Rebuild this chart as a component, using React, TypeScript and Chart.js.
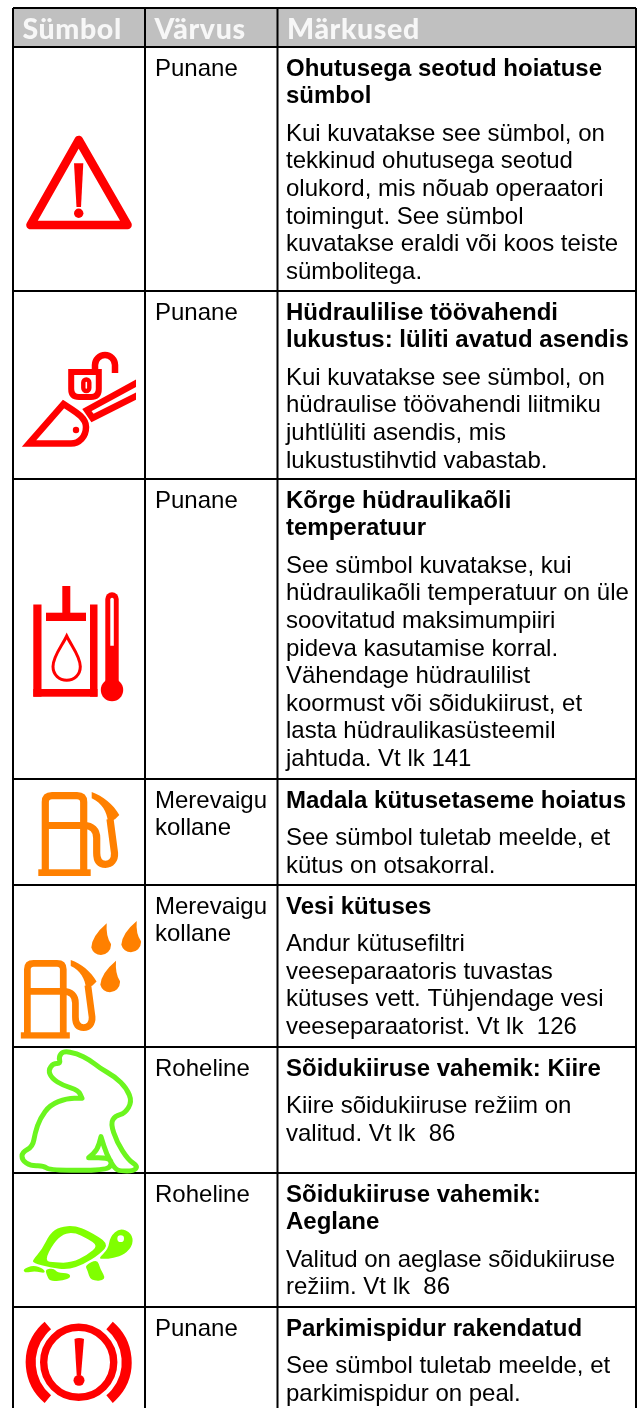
import React, { useEffect, useRef } from "react";
import { Chart, registerables } from "chart.js";

Chart.register(...registerables);

const W = 643;
const H = 1408;
const columnEdges = [13, 145, 277.5, 636];
const rowEdges = [8, 47, 291, 479, 779, 885, 1047, 1173, 1307];
const tableBottom = 1408;
const headers = ["Sümbol", "Värvus", "Märkused"];
const colours = ["Punane", "Punane", "Punane", "Merevaigu\nkollane", "Merevaigu\nkollane", "Roheline", "Roheline", "Punane"];
const titles = [
  ["Ohutusega seotud hoiatuse", "sümbol"],
  ["Hüdraulilise töövahendi", "lukustus: lüliti avatud asendis"],
  ["Kõrge hüdraulikaõli", "temperatuur"],
  ["Madala kütusetaseme hoiatus"],
  ["Vesi kütuses"],
  ["Sõidukiiruse vahemik: Kiire"],
  ["Sõidukiiruse vahemik:", "Aeglane"],
  ["Parkimispidur rakendatud"],
];
const bodies = [
  ["Kui kuvatakse see sümbol, on", "tekkinud ohutusega seotud", "olukord, mis nõuab operaatori", "toimingut. See sümbol", "kuvatakse eraldi või koos teiste", "sümbolitega."],
  ["Kui kuvatakse see sümbol, on", "hüdraulise töövahendi liitmiku", "juhtlüliti asendis, mis", "lukustustihvtid vabastab."],
  ["See sümbol kuvatakse, kui", "hüdraulikaõli temperatuur on üle", "soovitatud maksimumpiiri", "pideva kasutamise korral.", "Vähendage hüdraulilist", "koormust või sõidukiirust, et", "lasta hüdraulikasüsteemil", "jahtuda. Vt lk 141"],
  ["See sümbol tuletab meelde, et", "kütus on otsakorral."],
  ["Andur kütusefiltri", "veeseparaatoris tuvastas", "kütuses vett. Tühjendage vesi", "veeseparaatorist. Vt lk  126"],
  ["Kiire sõidukiiruse režiim on", "valitud. Vt lk  86"],
  ["Valitud on aeglase sõidukiiruse", "režiim. Vt lk  86"],
  ["See sümbol tuletab meelde, et", "parkimispidur on peal."],
];

const RED = "#FF0000";
const ORANGE = "#FF8000";
const GREEN_LINE = "#6CF51E";
const GREEN = "#80FF00";

type Ctx = CanvasRenderingContext2D;

function smooth(ctx: Ctx, pts: number[][]) {
  const n = pts.length;
  const mid = (a: number[], b: number[]) => [(a[0] + b[0]) / 2, (a[1] + b[1]) / 2];
  const s = mid(pts[n - 1], pts[0]);
  ctx.moveTo(s[0], s[1]);
  for (let i = 0; i < n; i++) {
    const m = mid(pts[i], pts[(i + 1) % n]);
    ctx.quadraticCurveTo(pts[i][0], pts[i][1], m[0], m[1]);
  }
  ctx.closePath();
}

function warning(ctx: Ctx) {
  ctx.strokeStyle = RED;
  ctx.fillStyle = RED;
  ctx.lineWidth = 8.6;
  ctx.lineJoin = "round";
  ctx.beginPath();
  ctx.moveTo(78.7, 140);
  ctx.lineTo(30.5, 225);
  ctx.lineTo(127.5, 225);
  ctx.closePath();
  ctx.stroke();
  ctx.beginPath();
  ctx.moveTo(74, 163.3);
  ctx.lineTo(83.3, 163.3);
  ctx.lineTo(81, 207);
  ctx.lineTo(76.5, 207);
  ctx.closePath();
  ctx.fill();
  ctx.beginPath();
  ctx.arc(78.7, 213.3, 4.7, 0, Math.PI * 2);
  ctx.fill();
}

function lock(ctx: Ctx) {
  ctx.strokeStyle = RED;
  ctx.fillStyle = RED;
  ctx.lineWidth = 6.5;
  ctx.lineJoin = "miter";
  ctx.beginPath();
  ctx.moveTo(29, 443.5);
  ctx.lineTo(63.5, 404);
  ctx.bezierCurveTo(74, 411, 86, 417, 86, 427);
  ctx.bezierCurveTo(86, 437, 79, 443.5, 71, 443.5);
  ctx.closePath();
  ctx.stroke();
  ctx.beginPath();
  ctx.arc(76, 430, 3.2, 0, Math.PI * 2);
  ctx.fill();
  ctx.lineWidth = 6.5;
  ctx.save();
  ctx.beginPath();
  ctx.rect(70, 370, 66, 60);
  ctx.clip();
  ctx.beginPath();
  ctx.moveTo(140, 381);
  ctx.lineTo(87, 410);
  ctx.lineTo(92.5, 418);
  ctx.lineTo(140, 394);
  ctx.stroke();
  ctx.restore();
  ctx.lineWidth = 6;
  ctx.beginPath();
  ctx.moveTo(71.2, 372);
  ctx.lineTo(98.8, 372);
  ctx.lineTo(98.8, 389);
  ctx.quadraticCurveTo(98.8, 397, 91, 397);
  ctx.lineTo(79, 397);
  ctx.quadraticCurveTo(71.2, 397, 71.2, 389);
  ctx.closePath();
  ctx.stroke();
  ctx.lineWidth = 4.4;
  ctx.beginPath();
  ctx.roundRect(83.3, 379.5, 6, 11.5, 3);
  ctx.stroke();
  ctx.lineWidth = 6.5;
  ctx.lineJoin = "round";
  ctx.beginPath();
  ctx.moveTo(95, 371);
  ctx.lineTo(95, 365);
  ctx.arc(105, 365, 10, Math.PI, 0);
  ctx.lineTo(115, 373);
  ctx.stroke();
}

function hydraulicTemp(ctx: Ctx) {
  ctx.fillStyle = RED;
  ctx.fillRect(33.3, 604.5, 8.2, 92.2);
  ctx.fillRect(90, 604.5, 7.5, 92.2);
  ctx.fillRect(33.3, 689, 64.2, 7.7);
  ctx.fillRect(46, 612.7, 40, 8.3);
  ctx.fillRect(62.3, 586, 8, 30);
  ctx.strokeStyle = RED;
  ctx.lineWidth = 3;
  ctx.lineJoin = "miter";
  ctx.beginPath();
  ctx.moveTo(66.7, 636);
  ctx.bezierCurveTo(62, 646, 53, 656, 53, 666.5);
  ctx.bezierCurveTo(53, 675, 59.5, 680.2, 66.7, 680.2);
  ctx.bezierCurveTo(74, 680.2, 80.3, 675, 80.3, 666.5);
  ctx.bezierCurveTo(80.3, 656, 71.4, 646, 66.7, 636);
  ctx.closePath();
  ctx.stroke();
  ctx.beginPath();
  ctx.roundRect(105.3, 592.3, 13.4, 95, 6.7);
  ctx.fill();
  ctx.beginPath();
  ctx.arc(112, 690, 11.2, 0, Math.PI * 2);
  ctx.fill();
  ctx.fillStyle = "#FFFFFF";
  ctx.beginPath();
  ctx.roundRect(110.3, 597.7, 3.5, 48, [1.7, 1.7, 0, 0]);
  ctx.fill();
}

function pump(ctx: Ctx) {
  ctx.strokeStyle = ORANGE;
  ctx.fillStyle = ORANGE;
  ctx.lineWidth = 7.2;
  ctx.lineJoin = "round";
  ctx.beginPath();
  ctx.moveTo(45.3, 870);
  ctx.lineTo(45.3, 802);
  ctx.quadraticCurveTo(45.3, 795.6, 52, 795.6);
  ctx.lineTo(77, 795.6);
  ctx.quadraticCurveTo(83.7, 795.6, 83.7, 802);
  ctx.lineTo(83.7, 870);
  ctx.moveTo(45.3, 825.5);
  ctx.lineTo(84, 825.5);
  ctx.bezierCurveTo(92, 825.5, 96.7, 830, 96.7, 838);
  ctx.lineTo(96.7, 853);
  ctx.bezierCurveTo(96.7, 861, 100, 864.3, 105.5, 864.3);
  ctx.bezierCurveTo(111, 864.3, 115, 860, 114.5, 853);
  ctx.lineTo(110, 819);
  ctx.stroke();
  ctx.fillRect(38.3, 869.3, 52.4, 6.7);
  ctx.beginPath();
  ctx.moveTo(91.7, 792);
  ctx.bezierCurveTo(103, 796, 113, 804, 119.3, 815);
  ctx.lineTo(115, 819.3);
  ctx.lineTo(108, 822);
  ctx.bezierCurveTo(107, 812, 102, 803, 91.7, 798.3);
  ctx.closePath();
  ctx.fill();
}

function waterFuel(ctx: Ctx) {
  ctx.save();
  ctx.translate(24, 960);
  ctx.scale(0.935, 0.935);
  ctx.translate(-41.7, -792);
  pump(ctx);
  ctx.restore();
  ctx.fillStyle = ORANGE;
  const drop = (cx: number, cy: number, ax: number, ay: number) => {
    ctx.beginPath();
    ctx.moveTo(ax, ay);
    ctx.quadraticCurveTo(ax - 1, ay + 13, cx + 10, cy - 1);
    ctx.arc(cx, cy, 10, 0, Math.PI * 0.92);
    ctx.quadraticCurveTo(cx - 9, cy - 9, ax, ay);
    ctx.fill();
  };
  drop(101, 945, 106.7, 923.3);
  drop(131, 942.3, 136.7, 921);
  drop(110, 982.3, 116, 960.7);
}

const rabbitOutline = [
  [246, 160], [246, 160], [200, 160], [150, 180], [120, 220], [105, 265], [98, 305], [66, 322], [66, 345], [92, 363], [130, 362], [150, 376], [320, 376], [337, 355], [325, 338], [266, 338], [266, 338], [292, 315], [303, 275], [303, 275], [320, 330], [345, 372], [362, 378], [400, 378], [414, 364], [385, 345], [350, 290], [332, 235], [345, 213], [375, 205], [396, 170], [380, 130], [345, 95], [300, 70], [270, 45], [230, 25], [190, 18], [176, 35], [182, 56], [160, 55], [145, 75], [155, 100], [190, 122], [235, 135],
];

function rabbit(ctx: Ctx) {
  ctx.save();
  ctx.translate(0, 1045);
  ctx.scale(1 / 3, 1 / 3);
  ctx.strokeStyle = GREEN_LINE;
  ctx.lineWidth = 15;
  ctx.lineJoin = "round";
  ctx.beginPath();
  smooth(ctx, rabbitOutline);
  ctx.stroke();
  ctx.restore();
}

const shellOuter = [[98, 255], [125, 225], [150, 175], [180, 155], [225, 152], [265, 168], [328, 205], [300, 237], [250, 268], [205, 284], [150, 278], [100, 264]];
const shellInner = [[133, 258], [160, 205], [190, 176], [225, 173], [260, 190], [295, 212], [262, 240], [215, 263], [165, 263]];
const turtleHead = [[295, 250], [325, 222], [330, 185], [360, 158], [395, 175], [400, 208], [375, 238], [340, 250], [310, 252]];
const turtleLeg = [[255, 272], [292, 252], [300, 280], [320, 316], [272, 318], [262, 285]];
const turtleTail = [[68, 283], [100, 270], [132, 282], [136, 296], [105, 288], [76, 294]];
const turtleFoot = [[136, 283], [162, 280], [172, 293], [208, 295], [212, 308], [190, 316], [150, 320], [140, 300]];

function turtle(ctx: Ctx) {
  ctx.save();
  ctx.translate(0, 1175);
  ctx.scale(1 / 3, 1 / 3);
  ctx.fillStyle = GREEN;
  ctx.beginPath();
  smooth(ctx, shellOuter);
  smooth(ctx, shellInner);
  ctx.fill("evenodd");
  for (const part of [turtleHead, turtleLeg, turtleTail, turtleFoot]) {
    ctx.beginPath();
    smooth(ctx, part);
    ctx.fill();
  }
  ctx.fillStyle = "#FFFFFF";
  ctx.beginPath();
  ctx.arc(362, 191, 10, 0, Math.PI * 2);
  ctx.fill();
  ctx.restore();
}

function brake(ctx: Ctx) {
  const cx = 78.7;
  const cy = 1362.3;
  ctx.strokeStyle = RED;
  ctx.fillStyle = RED;
  ctx.lineWidth = 7.4;
  ctx.beginPath();
  ctx.arc(cx, cy, 35, 0, Math.PI * 2);
  ctx.stroke();
  ctx.lineWidth = 10;
  ctx.lineCap = "butt";
  const a = (50 * Math.PI) / 180;
  ctx.beginPath();
  ctx.arc(cx, cy, 48, Math.PI - a, Math.PI + a);
  ctx.stroke();
  ctx.beginPath();
  ctx.arc(cx, cy, 48, -a, a);
  ctx.stroke();
  ctx.beginPath();
  ctx.moveTo(74.5, 1339);
  ctx.quadraticCurveTo(79, 1337, 84, 1339);
  ctx.lineTo(81, 1375);
  ctx.lineTo(76.7, 1375);
  ctx.closePath();
  ctx.fill();
  ctx.beginPath();
  ctx.arc(79, 1380.3, 5.5, 0, Math.PI * 2);
  ctx.fill();
}

const icons = [warning, lock, hydraulicTemp, pump, waterFuel, rabbit, turtle, brake];

const BODY_FONT = '24px "Liberation Sans"';
const BOLD_FONT = 'bold 24px "Liberation Sans"';
const HEAD_FONT = '900 28.5px Lato';
const LINE = 27.6;

const tablePlugin = {
  id: "tableText",
  afterDatasetsDraw(chart: any) {
    const ctx: Ctx = chart.ctx;
    const xs = chart.scales.x;
    const ys = chart.scales.y;
    const px = (v: number) => xs.getPixelForValue(v);
    const py = (v: number) => ys.getPixelForValue(v);
    ctx.save();
    ctx.textBaseline = "alphabetic";
    ctx.textAlign = "left";
    ctx.font = HEAD_FONT;
    ctx.fillStyle = "#F7F7F7";
    ctx.letterSpacing = "0.6px";
    headers.forEach((h, i) => ctx.fillText(h, px(columnEdges[i] + 9.5), py(rowEdges[1] - 8)));
    ctx.letterSpacing = "0px";
    ctx.fillStyle = "#000000";
    titles.forEach((title, r) => {
      const top = rowEdges[r + 1];
      const textX = columnEdges[2] + 8.5;
      let y = top + 28.5;
      ctx.font = BODY_FONT;
      colours[r].split("\n").forEach((c, i) => ctx.fillText(c, px(columnEdges[1] + 10), py(y + i * LINE)));
      ctx.font = BOLD_FONT;
      title.forEach((t) => {
        ctx.fillText(t, px(textX), py(y));
        y += LINE;
      });
      y += 10;
      ctx.font = BODY_FONT;
      bodies[r].forEach((t) => {
        ctx.fillText(t, px(textX), py(y));
        y += LINE;
      });
    });
    ctx.restore();
    for (const draw of icons) {
      ctx.save();
      draw(ctx);
      ctx.restore();
    }
  },
};

export default function App() {
  const ref = useRef<HTMLCanvasElement>(null);
  useEffect(() => {
    document.body.style.margin = "0";
    const rule = (pts: { x: number; y: number }[]) => ({
      data: pts,
      showLine: true,
      borderColor: "#000000",
      borderWidth: 2,
      pointRadius: 0,
      fill: false,
    });
    const last = columnEdges[columnEdges.length - 1];
    const chart = new Chart(ref.current as HTMLCanvasElement, {
      type: "scatter",
      data: {
        datasets: [
          ...columnEdges.map((x) => rule([{ x, y: rowEdges[0] }, { x, y: tableBottom }])),
          ...rowEdges.map((y) => rule([{ x: columnEdges[0], y }, { x: last, y }])),
          {
            data: [{ x: columnEdges[0], y: rowEdges[0] }, { x: last, y: rowEdges[0] }],
            showLine: true,
            borderWidth: 0,
            pointRadius: 0,
            backgroundColor: "#C0C0C0",
            fill: { target: { value: rowEdges[1] } },
          },
        ],
      } as any,
      options: {
        animation: false,
        responsive: false,
        layout: { padding: 0 },
        plugins: { legend: { display: false }, tooltip: { enabled: false }, title: { display: false } },
        scales: {
          x: { type: "linear", min: 0, max: W, display: false },
          y: { type: "linear", min: 0, max: H, reverse: true, display: false },
        },
      },
      plugins: [tablePlugin],
    });
    return () => chart.destroy();
  }, []);
  return <canvas ref={ref} width={W} height={H} style={{ display: "block", width: W, height: H }} />;
}
